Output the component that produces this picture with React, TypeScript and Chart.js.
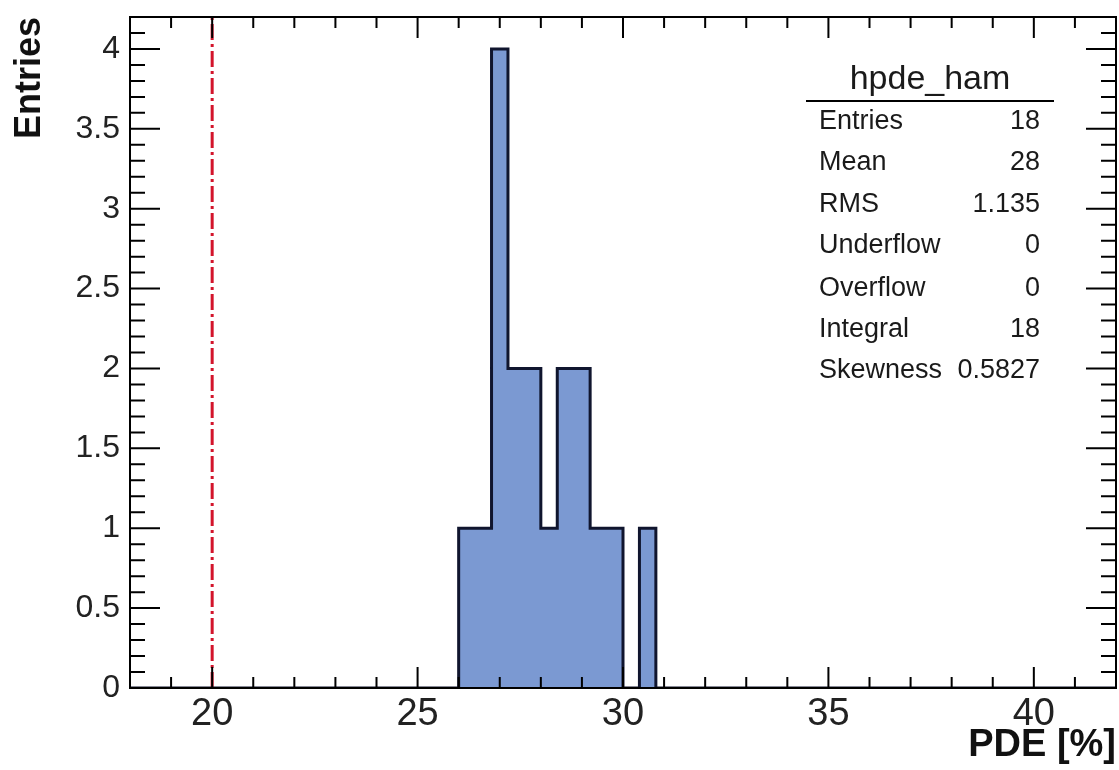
import React, { useEffect, useRef } from "react";
import { Chart, registerables } from "chart.js";

Chart.register(...registerables);

// ---- data ----
const histName = "hpde_ham";
const xTitle = "PDE [%]";
const yTitle = "Entries";
const xMin = 18;
const xMax = 42;
const yMin = 0;
const yMax = 4.2;
const binWidth = 0.4;
const firstBinLowEdge = 26.0;
const binCounts = [1, 1, 4, 2, 2, 1, 2, 2, 1, 1, 0, 1];
const xTickValues = [20, 25, 30, 35, 40];
const yTickValues = [0, 0.5, 1, 1.5, 2, 2.5, 3, 3.5, 4];
const xMinorStep = 1;
const yMinorStep = 0.1;
const cutValue = 20;
const statLabels = ["Entries", "Mean", "RMS", "Underflow", "Overflow", "Integral", "Skewness"];
const statValues = ["18", "28", "1.135", "0", "0", "18", "0.5827"];

const FONT = "'Liberation Sans', Arial, Helvetica, sans-serif";

function buildHistPoints() {
  const nBins = Math.round((xMax - xMin) / binWidth);
  const offset = Math.round((firstBinLowEdge - xMin) / binWidth);
  const pts: { x: number; y: number }[] = [];
  for (let i = 0; i < nBins; i++) {
    const k = i - offset;
    const y = k >= 0 && k < binCounts.length ? binCounts[k] : 0;
    pts.push({ x: +(xMin + i * binWidth).toFixed(4), y });
  }
  pts.push({ x: xMax, y: 0 });
  return pts;
}

const framePlugin = {
  id: "rootFrame",
  afterDraw(chart: any) {
    const { ctx, chartArea, scales } = chart;
    const { left, right, top, bottom } = chartArea;
    const xs = scales.x;
    const ys = scales.y;
    ctx.save();
    ctx.strokeStyle = "#000";
    ctx.lineWidth = 2;
    ctx.strokeRect(left, top, right - left, bottom - top);
    ctx.beginPath();
    const nx = Math.round((xMax - xMin) / xMinorStep);
    for (let i = 0; i <= nx; i++) {
      const v = xMin + i * xMinorStep;
      const px = xs.getPixelForValue(v);
      const major = xTickValues.includes(v);
      const len = major ? 21 : 11;
      ctx.moveTo(px, bottom);
      ctx.lineTo(px, bottom - len);
      ctx.moveTo(px, top);
      ctx.lineTo(px, top + len);
    }
    const ny = Math.round((yMax - yMin) / yMinorStep);
    for (let i = 0; i <= ny; i++) {
      const v = +(yMin + i * yMinorStep).toFixed(4);
      const py = ys.getPixelForValue(v);
      const major = yTickValues.includes(v);
      const len = major ? 30 : 15;
      ctx.moveTo(left, py);
      ctx.lineTo(left + len, py);
      ctx.moveTo(right, py);
      ctx.lineTo(right - len, py);
    }
    ctx.stroke();

    // stats box
    ctx.fillStyle = "#1a1a1a";
    ctx.font = `34px ${FONT}`;
    ctx.textAlign = "center";
    ctx.textBaseline = "alphabetic";
    ctx.fillText(histName, 930, 89);
    ctx.beginPath();
    ctx.lineWidth = 2;
    ctx.moveTo(806, 101);
    ctx.lineTo(1054, 101);
    ctx.stroke();
    ctx.font = `27px ${FONT}`;
    ctx.textBaseline = "middle";
    const rowY = [122, 163, 205, 246, 289, 330, 371];
    statLabels.forEach((lab, i) => {
      ctx.textAlign = "left";
      ctx.fillText(lab, 819, rowY[i]);
      ctx.textAlign = "right";
      ctx.fillText(statValues[i], 1040, rowY[i]);
    });
    ctx.restore();
  },
};

export default function App() {
  const ref = useRef<HTMLCanvasElement | null>(null);
  useEffect(() => {
    if (!ref.current) return;
    const chart = new Chart(ref.current, {
      type: "line",
      data: {
        datasets: [
          {
            data: buildHistPoints(),
            stepped: true,
            borderColor: "#10152e",
            borderWidth: 3,
            backgroundColor: "#7b99d2",
            fill: "origin",
            pointRadius: 0,
            tension: 0,
          },
          {
            data: [
              { x: cutValue, y: yMin },
              { x: cutValue, y: yMax },
            ],
            borderColor: "#d3142b",
            borderWidth: 3,
            borderDash: [16, 4, 3, 4],
            pointRadius: 0,
            fill: false,
          },
        ],
      },
      options: {
        responsive: false,
        animation: false,
        devicePixelRatio: 1,
        layout: { padding: { top: 17, right: 3, left: 0, bottom: 0 } },
        plugins: { legend: { display: false }, tooltip: { enabled: false } },
        scales: {
          x: {
            type: "linear",
            min: xMin,
            max: xMax,
            grid: { display: false, drawTicks: false },
            border: { display: false },
            afterBuildTicks: (s: any) => {
              s.ticks = xTickValues.map((v) => ({ value: v }));
            },
            afterFit: (s: any) => {
              s.height = 82;
              s.paddingLeft = 0;
              s.paddingRight = 0;
            },
            ticks: {
              autoSkip: false,
              maxRotation: 0,
              padding: 4,
              color: "#222",
              font: { family: FONT, size: 38 },
              callback: (v: any) => String(v),
            },
            title: {
              display: true,
              text: xTitle,
              align: "end",
              color: "#111",
              font: { family: FONT, size: 38, weight: "bold", lineHeight: 1.2 },
              padding: { top: 0, bottom: 2 },
            },
          },
          y: {
            type: "linear",
            min: yMin,
            max: yMax,
            grid: { display: false, drawTicks: false },
            border: { display: false },
            afterBuildTicks: (s: any) => {
              s.ticks = yTickValues.map((v) => ({ value: v }));
            },
            afterFit: (s: any) => {
              s.width = 130;
              s.paddingTop = 0;
              s.paddingBottom = 0;
            },
            ticks: {
              autoSkip: false,
              padding: 10,
              color: "#222",
              font: { family: FONT, size: 32, lineHeight: 1 },
              callback: (v: any) => String(v),
            },
            title: {
              display: true,
              text: yTitle,
              align: "end",
              color: "#111",
              font: { family: FONT, size: 36, weight: "bold", lineHeight: 1.2 },
              padding: { top: 8, bottom: 0 },
            },
          },
        },
      },
      plugins: [framePlugin],
    });
    return () => chart.destroy();
  }, []);
  return (
    <div style={{ position: "fixed", left: 0, top: 0, width: 1119, height: 770, background: "#fff" }}>
      <canvas ref={ref} width={1119} height={770} />
    </div>
  );
}
